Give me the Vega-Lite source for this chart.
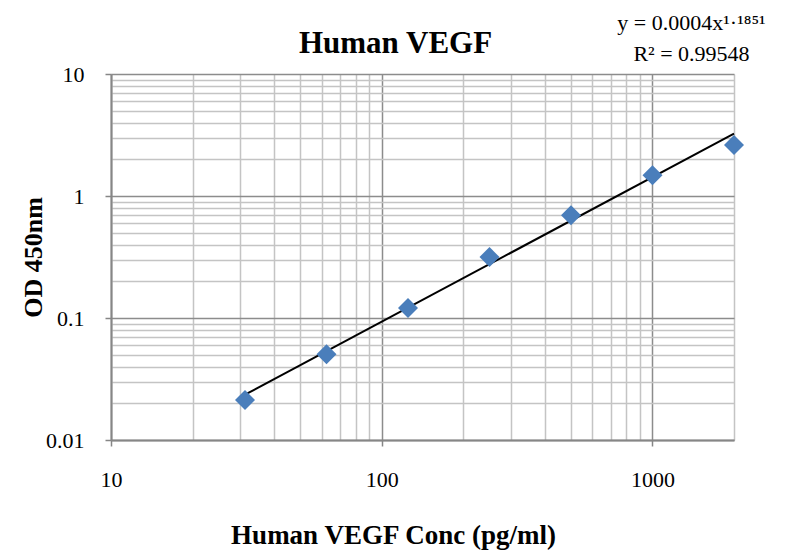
{
  "$schema": "https://vega.github.io/schema/vega-lite/v6.json",
  "width": 623,
  "height": 366,
  "autosize": {"type": "none"},
  "padding": {"left": 111, "top": 74, "right": 52, "bottom": 113},
  "background": "white",
  "config": {
    "view": {"stroke": null},
    "font": "Liberation Serif"
  },
  "title": {
    "text": "Human VEGF",
    "font": "Liberation Serif",
    "fontSize": 31,
    "fontWeight": "bold",
    "color": "black",
    "anchor": "middle",
    "baseline": "alphabetic",
    "dx": -27,
    "dy": 73,
    "offset": 0
  },
  "datasets": {
    "points": [
      {"conc": 31.25, "od": 0.0213},
      {"conc": 62.5, "od": 0.0505},
      {"conc": 125, "od": 0.121},
      {"conc": 250, "od": 0.316},
      {"conc": 500, "od": 0.695},
      {"conc": 1000, "od": 1.48},
      {"conc": 2000, "od": 2.62}
    ],
    "trend": [
      {"conc": 31.25, "od": 0.0235},
      {"conc": 2000, "od": 3.25}
    ]
  },
  "layer": [
    {
      "data": {"name": "trend"},
      "mark": {"type": "line", "color": "black", "strokeWidth": 2, "clip": false},
      "encoding": {
        "x": {
          "field": "conc", "type": "quantitative",
          "scale": {"type": "log", "domain": [10, 2000], "nice": false},
          "axis": {
            "orient": "top",
            "grid": false, "labels": false, "ticks": false, "domain": false,
            "title": ["y = 0.0004x¹·¹⁸⁵¹", "R² = 0.99548"],
            "titleFont": "Liberation Serif",
            "titleFontSize": 22,
            "titleFontWeight": "normal",
            "titleColor": "black",
            "titleAlign": "center",
            "titleBaseline": "alphabetic",
            "titleX": 580,
            "titleY": -45,
            "titleLineHeight": 31,
            "titleAngle": 0
          }
        },
        "y": {
          "field": "od", "type": "quantitative",
          "scale": {"type": "log", "domain": [0.01, 10], "nice": false}
        }
      }
    },
    {
      "data": {"name": "points"},
      "mark": {"type": "point", "shape": "diamond", "filled": true, "size": 400, "color": "#4a7ebb", "opacity": 1},
      "encoding": {
        "x": {
          "field": "conc", "type": "quantitative",
          "scale": {"type": "log", "domain": [10, 2000], "nice": false},
          "axis": {
            "orient": "bottom",
            "values": [10,20,30,40,50,60,70,80,90,100,200,300,400,500,600,700,800,900,1000,2000],
            "labelExpr": "abs(log(datum.value)/LN10 - round(log(datum.value)/LN10)) < 1e-6 ? format(datum.value, '~g') : ''",
            "labelFont": "Liberation Serif",
            "labelFontSize": 22,
            "labelColor": "black",
            "labelPadding": 23,
            "labelFlush": false,
            "labelOverlap": false,
            "grid": true,
            "gridColor": {"condition": {"test": "abs(log(datum.value)/LN10 - round(log(datum.value)/LN10)) < 1e-6", "value": "#8c8c8c"}, "value": "#c4c4c4"},
            "gridWidth": 1.5,
            "domainColor": "#868686",
            "domainWidth": 2,
            "tickColor": "#868686",
            "tickWidth": 1.5,
            "tickSize": 6,
            "tickOpacity": {"condition": {"test": "abs(log(datum.value)/LN10 - round(log(datum.value)/LN10)) < 1e-6", "value": 1}, "value": 0},
            "title": "Human VEGF Conc (pg/ml)",
            "titleFont": "Liberation Serif",
            "titleFontSize": 27,
            "titleFontWeight": "bold",
            "titleColor": "black",
            "titleAlign": "center",
            "titleBaseline": "alphabetic",
            "titleX": 282,
            "titleY": 103
          }
        },
        "y": {
          "field": "od", "type": "quantitative",
          "scale": {"type": "log", "domain": [0.01, 10], "nice": false},
          "axis": {
            "values": [0.01,0.02,0.03,0.04,0.05,0.06,0.07,0.08,0.09,0.1,0.2,0.3,0.4,0.5,0.6,0.7,0.8,0.9,1,2,3,4,5,6,7,8,9,10],
            "labelExpr": "abs(log(datum.value)/LN10 - round(log(datum.value)/LN10)) < 1e-6 ? format(datum.value, '~g') : ''",
            "labelFont": "Liberation Serif",
            "labelFontSize": 22,
            "labelColor": "black",
            "labelPadding": 21,
            "labelFlush": false,
            "labelOverlap": false,
            "grid": true,
            "gridColor": {"condition": {"test": "abs(log(datum.value)/LN10 - round(log(datum.value)/LN10)) < 1e-6", "value": "#8c8c8c"}, "value": "#c4c4c4"},
            "gridWidth": 1.5,
            "domainColor": "#868686",
            "domainWidth": 2,
            "tickColor": "#868686",
            "tickWidth": 1.5,
            "tickSize": 6,
            "tickOpacity": {"condition": {"test": "abs(log(datum.value)/LN10 - round(log(datum.value)/LN10)) < 1e-6", "value": 1}, "value": 0},
            "title": "OD 450nm",
            "titleFont": "Liberation Serif",
            "titleFontSize": 26,
            "titleFontWeight": "bold",
            "titleColor": "black",
            "titleAngle": 270,
            "titleAlign": "center",
            "titleBaseline": "alphabetic",
            "titleX": -70,
            "titleY": 183
          }
        }
      }
    }
  ],
  "resolve": {"axis": {"x": "independent"}}
}
